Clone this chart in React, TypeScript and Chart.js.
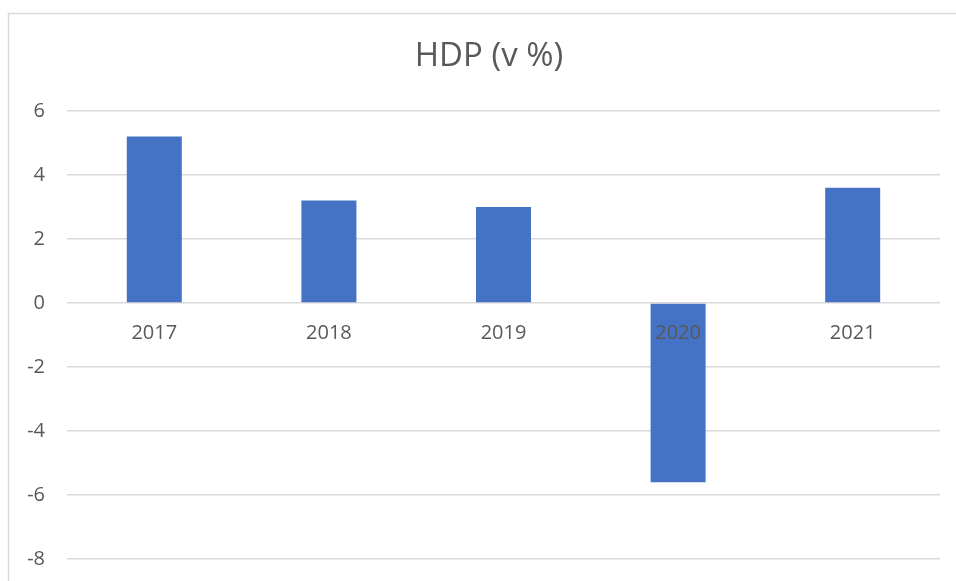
import React, { useEffect, useRef } from "react";
import { Chart, registerables } from "chart.js";

Chart.register(...registerables);

const categories = ["2017", "2018", "2019", "2020", "2021"];
const gdpValues = [5.2, 3.2, 3.0, -5.6, 3.6];
const titleText = "HDP (v %)";
const yMin = -8;
const yMax = 6;
const yStep = 2;

const TEXT = "#595959";
const GRID = "#D9D9D9";
const BAR = "#4472C4";
const FONT = "'Open Sans', 'Noto Sans', sans-serif";

const framePlugin = {
  id: "frame",
  beforeDraw(chart: any) {
    const ctx = chart.ctx;
    ctx.save();
    ctx.fillStyle = "#ffffff";
    ctx.fillRect(0, 0, chart.width, chart.height);
    ctx.strokeStyle = GRID;
    ctx.lineWidth = 1.5;
    ctx.beginPath();
    ctx.moveTo(8.5, chart.height);
    ctx.lineTo(8.5, 13.5);
    ctx.lineTo(chart.width, 13.5);
    ctx.stroke();
    ctx.fillStyle = TEXT;
    ctx.font = "33px " + FONT;
    ctx.textAlign = "center";
    ctx.textBaseline = "middle";
    ctx.fillText(titleText, 489, 57);
    ctx.restore();
  },
};

export default function App() {
  const ref = useRef<HTMLCanvasElement | null>(null);
  useEffect(() => {
    if (!ref.current) return;
    const chart = new Chart(ref.current, {
      type: "bar",
      data: {
        labels: categories,
        datasets: [
          {
            label: titleText,
            data: gdpValues,
            backgroundColor: BAR,
            borderWidth: 0,
            categoryPercentage: 1,
            barPercentage: 0.315,
          },
        ],
      },
      options: {
        responsive: false,
        animation: false,
        layout: { padding: { left: 8, right: 16, top: 111, bottom: 22 } },
        plugins: {
          legend: { display: false },
          title: { display: false },
          tooltip: { enabled: false },
        },
        scales: {
          x: {
            position: { y: 0 } as any,
            grid: { display: false, drawTicks: false },
            border: { display: false },
            ticks: {
              z: 1,
              color: TEXT,
              font: { family: FONT, size: 20 },
              padding: 18,
              maxRotation: 0,
            },
          },
          y: {
            min: yMin,
            max: yMax,
            afterFit(scale: any) {
              scale.width = 59;
            },
            grid: { color: GRID, lineWidth: 1.5, drawTicks: false },
            border: { display: false },
            ticks: {
              stepSize: yStep,
              color: TEXT,
              font: { family: FONT, size: 20 },
              padding: 22,
            },
          },
        },
      },
      plugins: [framePlugin],
    });
    return () => chart.destroy();
  }, []);
  return (
    <div style={{ position: "fixed", left: 0, top: 0, width: 956, height: 581, overflow: "hidden" }}>
      <canvas ref={ref} width={956} height={593} style={{ display: "block" }} />
    </div>
  );
}
